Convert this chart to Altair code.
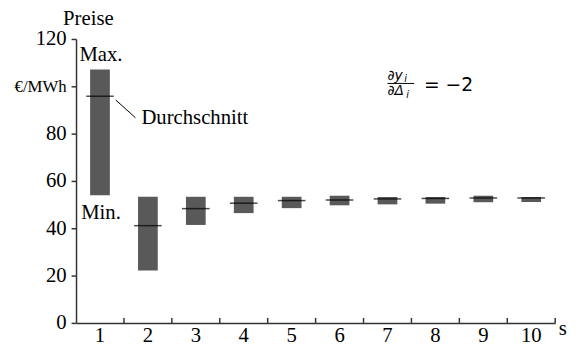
import altair as alt
import pandas as pd

categories = [1, 2, 3, 4, 5, 6, 7, 8, 9, 10]
max_vals = [107.1, 53.3, 53.3, 53.3, 53.3, 53.75, 53.2, 53.2, 53.75, 53.2]
min_vals = [53.9, 22.2, 41.4, 46.4, 48.5, 49.7, 50.1, 50.4, 51.0, 51.1]
avg_vals = [95.8, 41.1, 48.3, 50.6, 51.7, 51.9, 52.4, 52.6, 52.8, 52.8]
y_ticks = [0, 20, 40, 60, 80, 100, 120]

df = pd.DataFrame({"s": categories, "max": max_vals, "min": min_vals, "avg": avg_vals})

FONT = "Liberation Serif"
FS = 21
AX = "#333333"

xscale = alt.Scale(paddingInner=0, paddingOuter=0)
xaxis = alt.Axis(
    title="s", titleX=489, titleY=6, titleAlign="left", titleBaseline="middle",
    titleFontSize=FS, titleFontWeight="normal", titleFont=FONT,
    labelAngle=0, labelFontSize=FS, labelFont=FONT, labelColor="black",
    labelBaseline="alphabetic", labelPadding=19, ticks=False,
    domainColor=AX, domainWidth=1.5, grid=False,
)
yaxis = alt.Axis(
    title="Preise", titleAngle=0, titleX=12, titleY=-15, titleAlign="center",
    titleBaseline="alphabetic", titleFontSize=FS, titleFontWeight="normal", titleFont=FONT,
    values=y_ticks, labelExpr="datum.value == 100 ? '€/MWh' : datum.label",
    labelFontSize={"condition": {"test": "datum.value == 100", "value": 17}, "value": FS},
    labelFont=FONT, labelColor="black", labelPadding=5, tickSize=5, tickColor=AX,
    tickWidth=1.5, domainColor=AX, domainWidth=1.5, grid=False,
)

x_enc = alt.X("s:O", scale=xscale, axis=xaxis)
y_scale = alt.Scale(domain=[0, 120], nice=False)

base = alt.Chart(df)

bars = base.mark_bar(size=20, color="#595959").encode(
    x=x_enc,
    y=alt.Y("max:Q", scale=y_scale, axis=yaxis),
    y2="min:Q",
)
means = base.mark_tick(size=28, thickness=1.5, color="black", orient="horizontal").encode(
    x=x_enc, y=alt.Y("avg:Q", scale=y_scale)
)
xticks = base.mark_rule(color=AX, strokeWidth=1.5).encode(
    x=alt.X("s:O", scale=xscale, axis=xaxis, bandPosition=1),
    y=alt.value(283), y2=alt.value(288),
)

ann = pd.DataFrame({"s": [1], "y_max": [113], "y_min": [46.25], "y_dur": [86.7],
                    "y_l1": [94.2], "y_l2": [86.7]})
ann7 = pd.DataFrame({"s": [7], "y": [101.2]})

def txt(data, yfield, text, **kw):
    return alt.Chart(data).mark_text(text=text, **kw).encode(
        x=alt.X("s:O", scale=xscale, axis=xaxis),
        y=alt.Y(f"{yfield}:Q", scale=y_scale),
    )

t_max = txt(ann, "y_max", "Max.", font=FONT, fontSize=FS, align="center", baseline="middle", dx=1, color="black")
t_min = txt(ann, "y_min", "Min.", font=FONT, fontSize=FS, align="center", baseline="middle", dx=1, color="black")
t_dur = txt(ann, "y_dur", "Durchschnitt", font=FONT, fontSize=FS, align="left", baseline="middle", dx=42, color="black")
leader = alt.Chart(ann).mark_rule(color="black", strokeWidth=1, xOffset=16, x2Offset=36).encode(
    x=alt.X("s:O", scale=xscale, axis=xaxis), x2="s:O",
    y=alt.Y("y_l1:Q", scale=y_scale), y2="y_l2:Q",
)

MF = "DejaVu Sans"
num = txt(ann7, "y", "∂y", font=MF, fontSize=14, fontStyle="italic", align="left", baseline="alphabetic", dx=0, dy=-3, color="black")
num_i = txt(ann7, "y", "i", font=MF, fontSize=10, fontStyle="italic", align="left", baseline="alphabetic", dx=17, dy=-1, color="black")
den = txt(ann7, "y", "∂Δ", font=MF, fontSize=14, fontStyle="italic", align="left", baseline="alphabetic", dx=0, dy=12, color="black")
den_i = txt(ann7, "y", "i", font=MF, fontSize=10, fontStyle="italic", align="left", baseline="alphabetic", dx=19, dy=15, color="black")
frac = alt.Chart(ann7).mark_rule(color="black", strokeWidth=1, xOffset=0, x2Offset=27).encode(
    x=alt.X("s:O", scale=xscale, axis=xaxis), x2="s:O",
    y=alt.Y("y:Q", scale=y_scale), y2="y:Q",
)
eq = txt(ann7, "y", "= −2", font=MF, fontSize=19, align="left", baseline="middle", dx=37, dy=2, color="black")

chart = alt.layer(
    bars, means, xticks, t_max, t_min, t_dur, leader, num, num_i, den, den_i, frac, eq
).properties(
    width=486, height=288,
    autosize=alt.AutoSizeParams(type="none"),
    padding={"left": 69, "top": 29, "right": 13, "bottom": 20},
).configure(background="white").configure_view(stroke=None, strokeWidth=0)

chart.save("out.html", embed_options={"renderer": "svg", "actions": False})
